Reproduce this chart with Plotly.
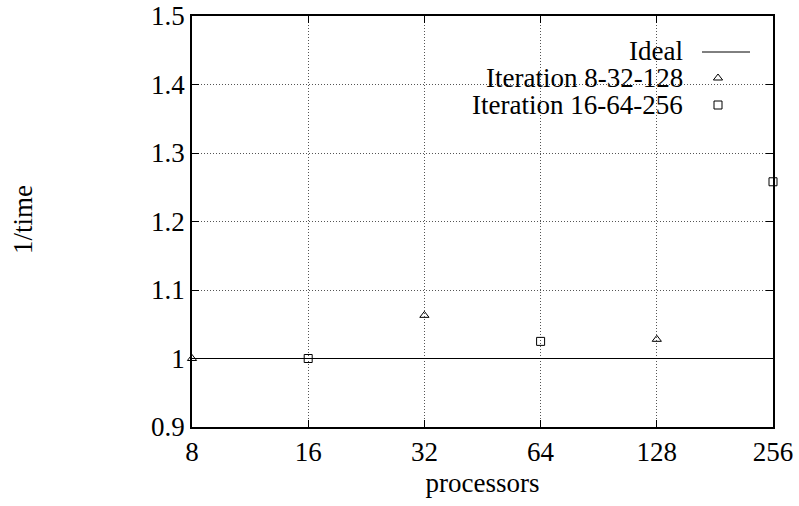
import math
import plotly.graph_objects as go

processors = [8, 16, 32, 64, 128, 256]
ideal_y = [1, 1, 1, 1, 1, 1]
iter_a_x = [8, 32, 128]
iter_a_y = [1.0, 1.063, 1.028]
iter_b_x = [16, 64, 256]
iter_b_y = [1.0, 1.025, 1.258]
x_ticks = [8, 16, 32, 64, 128, 256]
y_ticks = [0.9, 1.0, 1.1, 1.2, 1.3, 1.4, 1.5]
y_tick_text = ["0.9", "1", "1.1", "1.2", "1.3", "1.4", "1.5"]
legend_names = ["Ideal", "Iteration 8-32-128", "Iteration 16-64-256"]

FONT = "Liberation Serif"
FS = 27
W, H = 799, 506
L, R, T, B = 192, 26, 16, 79
pw, ph = W - L - R, H - T - B
def px(x):
    return (x - L) / pw
def py(y):
    return 1 - (y - T) / ph

fig = go.Figure()
fig.add_trace(go.Scatter(x=processors, y=ideal_y, mode="lines",
                         line=dict(color="black", width=1), showlegend=False))
fig.add_trace(go.Scatter(x=iter_a_x, y=iter_a_y, mode="markers",
                         marker=dict(symbol="triangle-up-open", size=8, color="black",
                                     line=dict(width=1)), showlegend=False, cliponaxis=False))
fig.add_trace(go.Scatter(x=iter_b_x, y=iter_b_y, mode="markers",
                         marker=dict(symbol="square-open", size=8, color="black",
                                     line=dict(width=1)), showlegend=False, cliponaxis=False))

rows = [51, 78, 105]
for name, yy in zip(legend_names, rows):
    fig.add_annotation(x=px(684), y=py(yy), xref="paper", yref="paper", text=name,
                       showarrow=False, xanchor="right", yanchor="middle", borderpad=0,
                       font=dict(family=FONT, size=FS, color="black"))
fig.add_shape(type="line", xref="paper", yref="paper", x0=px(702), x1=px(750),
              y0=py(52), y1=py(52), line=dict(color="black", width=1))
fig.add_trace(go.Scatter(x=[px(718)], y=[py(78)], xaxis="x2", yaxis="y2", mode="markers",
                         marker=dict(symbol="triangle-up-open", size=8, color="black", line=dict(width=1)),
                         showlegend=False, cliponaxis=False, hoverinfo="skip"))
fig.add_trace(go.Scatter(x=[px(718)], y=[py(105)], xaxis="x2", yaxis="y2", mode="markers",
                         marker=dict(symbol="square-open", size=8, color="black", line=dict(width=1)),
                         showlegend=False, cliponaxis=False, hoverinfo="skip"))

axis_common = dict(showline=True, linecolor="black", linewidth=1.5, mirror="ticks",
                   ticks="inside", ticklen=7, tickcolor="black", automargin=False,
                   showgrid=True, gridcolor="#555555", griddash="1px,2px", gridwidth=1,
                   zeroline=False, ticklabeloverflow="allow",
                   tickfont=dict(family=FONT, size=FS, color="black"))
fig.update_layout(
    width=W, height=H, margin=dict(l=L, r=R, t=T, b=B),
    plot_bgcolor="white", paper_bgcolor="white",
    font=dict(family=FONT, size=FS, color="black"),
    xaxis=dict(type="log", range=[math.log10(8) - 1e-9, math.log10(256) + 1e-9], tickvals=x_ticks,
               ticktext=[str(v) for v in x_ticks],
               title=dict(text="processors", font=dict(family=FONT, size=FS), standoff=7),
               **axis_common),
    yaxis=dict(range=[0.9, 1.5], tickvals=y_ticks, ticktext=y_tick_text, **axis_common),
    xaxis2=dict(range=[0, 1], overlaying="x", visible=False, automargin=False),
    yaxis2=dict(range=[0, 1], overlaying="y", visible=False, automargin=False),
)
fig.add_annotation(x=px(23), y=py(220), xref="paper", yref="paper", text="1/time",
                   showarrow=False, xanchor="center", yanchor="middle", textangle=-90,
                   font=dict(family=FONT, size=FS, color="black"))
fig.write_html("out.html", config={"displayModeBar": False},
               post_script="document.body.style.margin='0px';document.body.style.overflow='hidden';")
